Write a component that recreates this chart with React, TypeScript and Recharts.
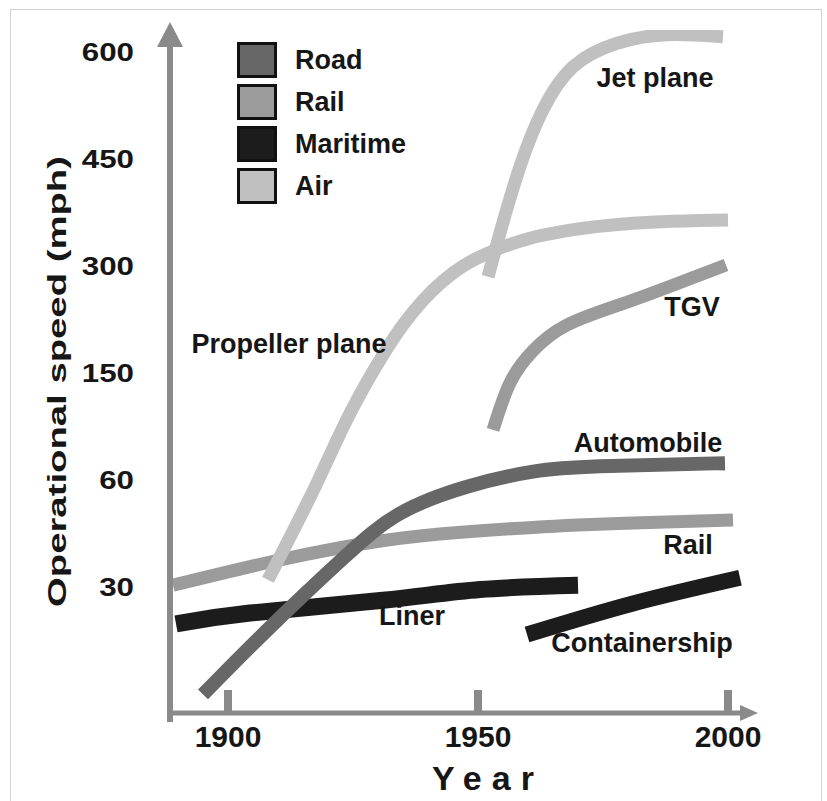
import React from 'react';
import { LineChart, Line, XAxis, YAxis, Legend, ReferenceDot } from 'recharts';

// ---- Data -------------------------------------------------------------
// The speed axis is rank-spaced: 30, 60, 150, 300, 450, 600 mph sit at ranks 1..6.
const speedTickLabels = [30, 60, 150, 300, 450, 600];
const speedTickRanks = [1, 2, 3, 4, 5, 6];
const yearTicks = [1900, 1950, 2000];

const propellerPlane = [
  { year: 1908, speedRank: 1.07 },
  { year: 1916.4, speedRank: 1.84 },
  { year: 1925, speedRank: 2.68 },
  { year: 1931, speedRank: 3.17 },
  { year: 1935, speedRank: 3.45 },
  { year: 1939, speedRank: 3.68 },
  { year: 1943, speedRank: 3.86 },
  { year: 1947, speedRank: 4.0 },
  { year: 1953, speedRank: 4.14 },
  { year: 1960.4, speedRank: 4.26 },
  { year: 1967.8, speedRank: 4.33 },
  { year: 1981, speedRank: 4.4 },
  { year: 2000, speedRank: 4.43 },
];
const jetPlane = [
  { year: 1952, speedRank: 3.9 },
  { year: 1954.4, speedRank: 4.31 },
  { year: 1958.4, speedRank: 4.93 },
  { year: 1963, speedRank: 5.46 },
  { year: 1969, speedRank: 5.86 },
  { year: 1977.8, speedRank: 6.08 },
  { year: 1987.8, speedRank: 6.16 },
  { year: 1999, speedRank: 6.14 },
];
const tgv = [
  { year: 1953, speedRank: 2.47 },
  { year: 1956.4, speedRank: 2.91 },
  { year: 1961, speedRank: 3.21 },
  { year: 1967.8, speedRank: 3.45 },
  { year: 1978.4, speedRank: 3.64 },
  { year: 1987.8, speedRank: 3.8 },
  { year: 1999.6, speedRank: 4.01 },
];
const automobile = [
  { year: 1895, speedRank: 0.0 },
  { year: 1907.8, speedRank: 0.6 },
  { year: 1923, speedRank: 1.27 },
  { year: 1934.4, speedRank: 1.69 },
  { year: 1947.8, speedRank: 1.94 },
  { year: 1961, speedRank: 2.08 },
  { year: 1974.4, speedRank: 2.13 },
  { year: 1999.4, speedRank: 2.16 },
];
const rail = [
  { year: 1889, speedRank: 1.02 },
  { year: 1907.8, speedRank: 1.23 },
  { year: 1922.4, speedRank: 1.37 },
  { year: 1938.4, speedRank: 1.48 },
  { year: 1961, speedRank: 1.56 },
  { year: 1981, speedRank: 1.6 },
  { year: 2001, speedRank: 1.63 },
];
const liner = [
  { year: 1889.6, speedRank: 0.66 },
  { year: 1904.4, speedRank: 0.76 },
  { year: 1931, speedRank: 0.88 },
  { year: 1950.4, speedRank: 0.98 },
  { year: 1970, speedRank: 1.02 },
];
const containership = [
  { year: 1959.8, speedRank: 0.56 },
  { year: 1981, speedRank: 0.85 },
  { year: 2002.4, speedRank: 1.09 },
];

const modeNames = ['Road', 'Rail', 'Maritime', 'Air'];
const modeColors = ['#676767', '#9b9b9b', '#1c1c1c', '#c0c0c0'];

const annotationTexts = ['Jet plane', 'Propeller plane', 'TGV', 'Automobile', 'Rail', 'Liner', 'Containership'];
const annotationYears = [1985.4, 1912.2, 1992.8, 1984, 1992, 1936.8, 1982.8];
const annotationRanks = [5.76, 3.28, 3.62, 2.35, 1.4, 0.74, 0.49];

// ---- Styling -----------------------------------------------------------
const FONT = "'Liberation Sans', Arial, Helvetica, sans-serif";
const AXIS = '#8a8a8a';
const INK = '#161616';
const X_DOMAIN: [number, number] = [1888.4, 2003.4];
const Y_DOMAIN: [number, number] = [-0.173, 6.204];

const YTick = (props: any) => {
  const { x, y, payload } = props;
  const i = speedTickRanks.indexOf(payload.value);
  const label = i >= 0 ? String(speedTickLabels[i]) : '';
  return (
    <text
      x={x + 2}
      y={y}
      dy="0.36em"
      textAnchor="end"
      fontFamily={FONT}
      fontWeight="bold"
      fontSize={25}
      fill={INK}
      textLength={label.length * 17.4}
      lengthAdjust="spacingAndGlyphs"
    >
      {label}
    </text>
  );
};

const XTick = (props: any) => {
  const { x, y, payload } = props;
  return (
    <g>
      <rect x={x - 4} y={y - 23} width={8} height={23} fill={AXIS} />
      <text x={x} y={y + 34} textAnchor="middle" fontFamily={FONT} fontWeight="bold" fontSize={30} fill={INK}>
        {payload.value}
      </text>
    </g>
  );
};

const YTitle = (props: any) => {
  const vb = props.viewBox || { x: 0, y: 0, width: 0, height: 0 };
  const cx = vb.x + 57;
  const cy = vb.y + vb.height / 2 + 10;
  return (
    <text
      x={cx}
      y={cy}
      transform={`rotate(-90 ${cx} ${cy})`}
      textAnchor="middle"
      dominantBaseline="central"
      fontFamily={FONT}
      fontWeight="bold"
      fontSize={25}
      fill={INK}
      textLength={451}
      lengthAdjust="spacingAndGlyphs"
    >
      Operational speed (mph)
    </text>
  );
};

const XTitle = (props: any) => {
  const vb = props.viewBox || { x: 0, y: 0, width: 0, height: 0 };
  return (
    <text
      x={vb.x + 318}
      y={vb.y + 77}
      textAnchor="middle"
      fontFamily={FONT}
      fontWeight="bold"
      fontSize={34}
      letterSpacing={10}
      fill={INK}
    >
      Year
    </text>
  );
};

const ModeLegend = () => (
  <div style={{ display: 'flex', flexDirection: 'column' }}>
    {modeNames.map((name, i) => (
      <div key={name} style={{ display: 'flex', alignItems: 'center', height: 42 }}>
        <div
          style={{
            width: 34,
            height: 30,
            background: modeColors[i],
            border: '3px solid #111',
            boxSizing: 'content-box',
          }}
        />
        <span
          style={{
            marginLeft: 18,
            fontFamily: FONT,
            fontWeight: 'bold',
            fontSize: 27,
            color: INK,
            lineHeight: '30px',
          }}
        >
          {name}
        </span>
      </div>
    ))}
  </div>
);

const UpArrow = (p: any) => (
  <polygon points={`${p.cx},${p.cy - 8} ${p.cx - 13},${p.cy + 17} ${p.cx + 13},${p.cy + 17}`} fill={AXIS} />
);
const RightArrow = (p: any) => (
  <polygon points={`${p.cx + 13},${p.cy} ${p.cx - 5},${p.cy - 8} ${p.cx - 5},${p.cy + 8}`} fill={AXIS} />
);
const AxisStub = (p: any) => <rect x={p.cx - 3} y={p.cy} width={6} height={9} fill={AXIS} />;

const series = [
  { key: 'rail', data: rail, color: modeColors[1], width: 13, curve: 'natural' },
  { key: 'liner', data: liner, color: modeColors[2], width: 17, curve: 'natural' },
  { key: 'propeller', data: propellerPlane, color: modeColors[3], width: 13, curve: 'monotone' },
  { key: 'jet', data: jetPlane, color: modeColors[3], width: 13, curve: 'natural' },
  { key: 'tgv', data: tgv, color: modeColors[1], width: 13, curve: 'natural' },
  { key: 'automobile', data: automobile, color: modeColors[0], width: 14, curve: 'natural' },
  { key: 'containership', data: containership, color: modeColors[2], width: 16, curve: 'natural' },
];

export default function App() {
  return (
    <div style={{ position: 'absolute', left: 0, top: 0, width: 827, height: 801, background: '#fff', overflow: 'hidden' }}>
      <div
        style={{
          position: 'absolute',
          left: 10,
          top: 9,
          width: 810,
          height: 800,
          borderTop: '1px solid #d2d2d2',
          borderLeft: '1px solid #d2d2d2',
          borderRight: '1px solid #d2d2d2',
        }}
      />
      <div style={{ position: 'absolute', left: 0, top: 0 }}>
        <LineChart width={827} height={801} margin={{ top: 30, right: 82, bottom: 0, left: 0 }}>
          <XAxis
            type="number"
            dataKey="year"
            domain={X_DOMAIN}
            allowDataOverflow
            ticks={yearTicks}
            tick={<XTick />}
            tickLine={false}
            tickSize={0}
            tickMargin={0}
            height={88}
            axisLine={{ stroke: AXIS, strokeWidth: 5 }}
            label={<XTitle />}
          />
          <YAxis
            type="number"
            domain={Y_DOMAIN}
            allowDataOverflow
            ticks={speedTickRanks}
            tick={<YTick />}
            tickLine={false}
            tickSize={0}
            tickMargin={38}
            width={170}
            axisLine={{ stroke: AXIS, strokeWidth: 6 }}
            label={<YTitle />}
          />
          <Legend
            layout="vertical"
            align="center"
            verticalAlign="middle"
            content={<ModeLegend />}
            wrapperStyle={{ left: 237, top: 39, width: 200, height: 170 }}
          />
          {series.map((s) => (
            <Line
              key={s.key}
              data={s.data}
              dataKey="speedRank"
              type={s.curve as any}
              stroke={s.color}
              strokeWidth={s.width}
              strokeLinecap="butt"
              dot={false}
              activeDot={false}
              legendType="none"
              isAnimationActive={false}
            />
          ))}
          <ReferenceDot x={X_DOMAIN[0]} y={Y_DOMAIN[1]} r={1} ifOverflow="visible" shape={<UpArrow />} />
          <ReferenceDot x={X_DOMAIN[1]} y={Y_DOMAIN[0]} r={1} ifOverflow="visible" shape={<RightArrow />} />
          <ReferenceDot x={X_DOMAIN[0]} y={Y_DOMAIN[0]} r={1} ifOverflow="visible" shape={<AxisStub />} />
          {annotationTexts.map((t, i) => (
            <ReferenceDot
              key={t + i}
              x={annotationYears[i]}
              y={annotationRanks[i]}
              r={0}
              fill="none"
              stroke="none"
              ifOverflow="visible"
              label={{
                value: t,
                position: 'center',
                fill: INK,
                fontSize: 27,
                fontWeight: 'bold',
                fontFamily: FONT,
              }}
            />
          ))}
        </LineChart>
      </div>
    </div>
  );
}
